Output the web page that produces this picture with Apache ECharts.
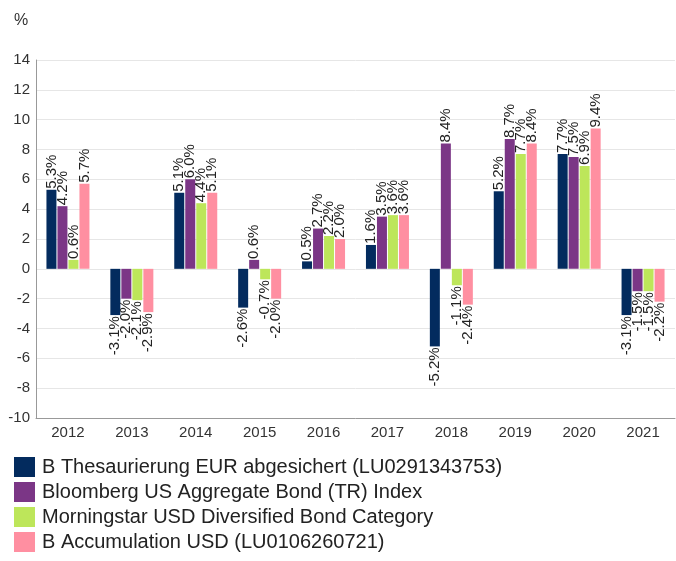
<!DOCTYPE html>
<html><head><meta charset="utf-8">
<script src="https://cdn.jsdelivr.net/npm/echarts@6/dist/echarts.min.js"></script>
<style>html,body{margin:0;padding:0;background:#fff}#c{width:676px;height:561px}</style>
</head><body><div id="c"></div>
<script>
const categories = ['2012','2013','2014','2015','2016','2017','2018','2019','2020','2021'];
const seriesNames = [
  'B Thesaurierung EUR abgesichert (LU0291343753)',
  'Bloomberg US Aggregate Bond (TR) Index',
  'Morningstar USD Diversified Bond Category',
  'B Accumulation USD (LU0106260721)'
];
const fundEUR = [5.3, -3.1, 5.1, -2.6, 0.5, 1.6, -5.2, 5.2, 7.7, -3.1];
const bloomberg = [4.2, -2.0, 6.0, 0.6, 2.7, 3.5, 8.4, 8.7, 7.5, -1.5];
const morningstar = [0.6, -2.1, 4.4, -0.7, 2.2, 3.6, -1.1, 7.7, 6.9, -1.5];
const fundUSD = [5.7, -2.9, 5.1, -2.0, 2.0, 3.6, -2.4, 8.4, 9.4, -2.2];
const colors = ['#032b5e', '#7b3686', '#bde65a', '#ff8fa1'];
const font = '"Liberation Sans", Arial, sans-serif';

function toData(arr) {
  return arr.map(v => ({
    value: v,
    label: { align: v >= 0 ? 'left' : 'right' }
  }));
}
const allData = [fundEUR, bloomberg, morningstar, fundUSD];
const chart = echarts.init(document.getElementById('c'));
chart.setOption({
  animation: false,
  textStyle: { fontFamily: font },
  title: { text: '%', left: 9, top: 8, textStyle: { fontFamily: font, fontSize: 16, fontWeight: 'normal', color: '#333' } },
  grid: { left: 36, right: 1, top: 60, bottom: 143 },
  legend: {
    orient: 'vertical', left: 14, top: 457, padding: 0,
    itemWidth: 21, itemHeight: 20, itemGap: 5,
    icon: 'rect',
    textStyle: { fontFamily: font, fontSize: 20, color: '#222', padding: [0,0,0,2] },
    data: seriesNames
  },
  xAxis: {
    type: 'category', data: categories,
    axisLine: { onZero: false, lineStyle: { color: '#999' } },
    axisTick: { show: false },
    axisLabel: { fontFamily: font, fontSize: 15, color: '#333', margin: 7 }
  },
  yAxis: {
    type: 'value', min: -10, max: 14, interval: 2,
    axisLine: { show: true, lineStyle: { color: '#999' } },
    axisTick: { show: false },
    splitLine: { lineStyle: { color: '#e6e6e6' } },
    axisLabel: { fontFamily: font, fontSize: 15, color: '#333', margin: 6 }
  },
  series: seriesNames.map((n, i) => ({
    name: n, type: 'bar',
    data: toData(allData[i]),
    barWidth: 10, barGap: '10%',
    itemStyle: { color: colors[i] },
    label: {
      show: true, position: 'outside', rotate: 90, distance: 1,
      verticalAlign: 'middle',
      fontFamily: font, fontSize: 15, color: '#222',
      formatter: p => p.value.toFixed(1) + '%'
    }
  }))
});
</script></body></html>
